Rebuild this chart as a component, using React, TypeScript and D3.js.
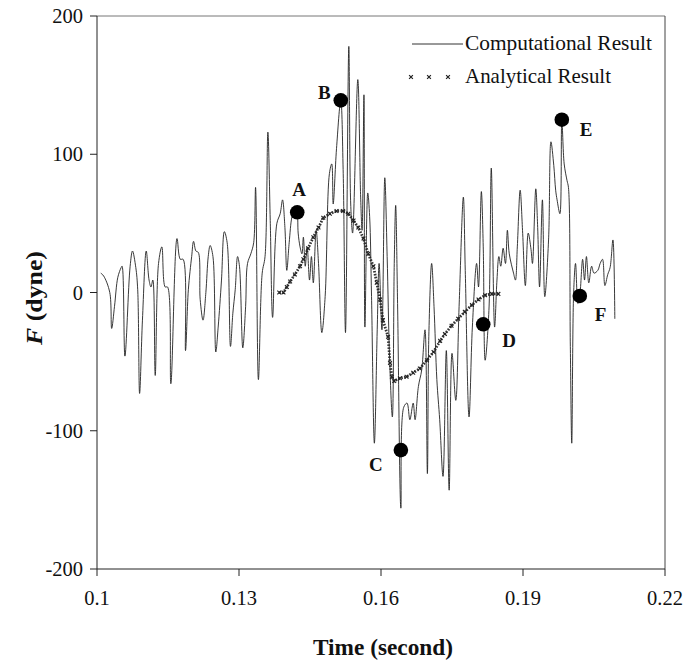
import { scaleLinear, line, symbol, symbolTimes, curveCatmullRom } from 'd3';

const width = 684;
const height = 663;
const margin = { top: 16, right: 19, bottom: 94, left: 97 };

// computational result: time (s), force (dyne)
const compTime = [
  0.1008, 0.1014, 0.1027, 0.1031, 0.1037, 0.1044, 0.1051, 0.1053, 0.1059, 0.107,
  0.1075, 0.1082, 0.1086, 0.109, 0.1096, 0.1104, 0.111, 0.1114, 0.1118, 0.1123,
  0.113, 0.1137, 0.1144, 0.1149, 0.1156, 0.1169, 0.1176, 0.1182, 0.1187, 0.1193,
  0.12, 0.1204, 0.1209, 0.1214, 0.1218, 0.1224, 0.123, 0.1235, 0.1239, 0.1245,
  0.1251, 0.1256, 0.1263, 0.1269, 0.1275, 0.1282, 0.1287, 0.1292, 0.1297, 0.1301,
  0.1308, 0.1314, 0.1318, 0.1325, 0.1331, 0.1335, 0.1341, 0.1349, 0.1355, 0.1361,
  0.1366, 0.1371, 0.138, 0.1387, 0.1392, 0.1397, 0.1401, 0.1406, 0.1412, 0.1419,
  0.1423, 0.1425, 0.1429, 0.1433, 0.1436, 0.144, 0.1444, 0.1449, 0.1453, 0.1457,
  0.1463, 0.1468, 0.1475, 0.1482, 0.1491, 0.1496, 0.1499, 0.1506, 0.1515, 0.152,
  0.1525, 0.1532, 0.1536, 0.154, 0.1551, 0.1557, 0.156, 0.1564, 0.1566, 0.1572,
  0.1576, 0.158, 0.1586, 0.1592, 0.1596, 0.1602, 0.1608, 0.1613, 0.1618, 0.1624,
  0.1628, 0.1631, 0.1635, 0.1642, 0.1648, 0.1655, 0.1661, 0.1668, 0.1672, 0.1679,
  0.1686, 0.1693, 0.1698, 0.1701, 0.1707, 0.1712, 0.1718, 0.1724, 0.1731, 0.1738,
  0.1744, 0.175, 0.1758, 0.1765, 0.1774, 0.1778, 0.1786, 0.1793, 0.1802, 0.1806,
  0.1812, 0.1816, 0.182, 0.1828, 0.1833, 0.184, 0.1845, 0.1849, 0.1853, 0.1858,
  0.1863, 0.1867, 0.1871, 0.188, 0.1884, 0.1888, 0.1894, 0.1899, 0.1905, 0.1911,
  0.1917, 0.192, 0.1927, 0.1931, 0.1935, 0.1941, 0.1946, 0.1954, 0.1959, 0.1965,
  0.1969, 0.1972, 0.1978, 0.1982, 0.1987, 0.1993, 0.1996, 0.2, 0.2003, 0.2007,
  0.2011, 0.2016, 0.202, 0.2026, 0.203, 0.2034, 0.2039, 0.2045, 0.205, 0.2058,
  0.2063, 0.2068, 0.2073, 0.2079, 0.2084, 0.209, 0.2094,
];
const compForce = [
  14, 12, 0, -26, -10, 11, 18, 19, -46, 19,
  30, 18, 2, -73, -20, 30, 9, 4, 9, -60,
  21, 33, 4, 4, -66, 39, 24, 24, -42, 2,
  26, 37, 30, 29, -5, -20, 0, 26, 34, 26,
  -43, -25, 9, 44, 36, -39, -15, 2, 26, 19,
  -40, -10, 21, 28, 36, 76, -63, 14, 26, 116,
  52, -18, 50, 57, 67, 47, 16, 36, 55, 62,
  58, 43, 33, 28, 40, 19, 33, 9, 26, 7,
  45, 21, -29, -3, 86, 93, 64, 104, 139, 89,
  -29, 178, 64, 43, 154, 69, 45, 143, -25, 72,
  55, -3, -109, -27, 21, -27, 83, 26, -46, -90,
  21, 63, -8, -156, -83, -80, -92, -80, -92, -68,
  -56, -27, -131, -32, 21, -10, -63, -92, -133, -42,
  -143, -44, -78, -10, 69, 16, -90, -25, 21, 4,
  73, 33, -49, -13, 90, -25, 9, 26, 19, 32,
  21, 45, 28, 14, 9, 33, 74, 45, 5, 43,
  31, 21, 75, 47, 4, 67, -3, 38, 109, 92,
  74, 67, 57, 125, 93, 81, 76, -39, -109, 0,
  21, -8, -2, 24, 9, 26, 7, 19, 14, 16,
  21, 24, 5, 13, 18, 38, -19,
];

// analytical result
const anaTime = [
  0.1385, 0.1394, 0.1401, 0.1408, 0.1418, 0.1429, 0.1436, 0.1446, 0.1457, 0.1468,
  0.1478, 0.1492, 0.1506, 0.152, 0.1531, 0.1542, 0.1552, 0.1563, 0.1573, 0.1584,
  0.1591, 0.1598, 0.1604, 0.1615, 0.1619, 0.1623, 0.1628, 0.164, 0.1654, 0.1668,
  0.1682, 0.1697, 0.1711, 0.1725, 0.1735, 0.1749, 0.1763, 0.1777, 0.1792, 0.1806,
  0.182, 0.1834, 0.1848,
];
const anaForce = [
  0, 0, 4, 8, 13, 19, 24, 32, 40, 47,
  54, 57, 59, 59, 57, 52, 47, 39, 28, 19,
  7, -5, -20, -32, -51, -61, -64, -62, -61, -58,
  -55, -49, -43, -35, -30, -24, -19, -14, -9, -5,
  -2, -1, -1,
];

// labelled points
const pointNames = ['A', 'B', 'C', 'D', 'E', 'F'];
const pointTime = [0.1423, 0.1515, 0.1642, 0.1816, 0.1982, 0.202];
const pointForce = [58, 139, -114, -23, 125, -2.5];
const labelOffsets = [
  [2, -16, 'middle'],
  [-10, -1, 'end'],
  [-25, 21, 'middle'],
  [19, 23, 'start'],
  [18, 16, 'start'],
  [15, 25, 'start'],
];

const xTicks = [0.1, 0.13, 0.16, 0.19, 0.22];
const yTicks = [-200, -100, 0, 100, 200];

const font = '"Liberation Serif", "DejaVu Serif", serif';

export default function App() {
  const x = scaleLinear().domain([0.1, 0.22]).range([margin.left, width - margin.right]);
  const y = scaleLinear().domain([-200, 200]).range([height - margin.bottom, margin.top]);

  const comp = compTime.map((t, i) => [t, compForce[i]]);
  const ana = anaTime.map((t, i) => [t, anaForce[i]]);

  const lineGen = line()
    .x((d) => x(d[0]))
    .y((d) => y(d[1]));
  const smoothGen = line()
    .x((d) => x(d[0]))
    .y((d) => y(d[1]))
    .curve(curveCatmullRom.alpha(0.5));

  const cross = symbol().type(symbolTimes).size(11)();

  const x0 = x.range()[0];
  const x1 = x.range()[1];
  const yTop = y.range()[1];
  const yBot = y.range()[0];

  return (
    <div style={{ position: 'absolute', left: 0, top: 0 }}>
      <svg width={width} height={height} style={{ display: 'block', background: '#fff' }}>
        {/* frame */}
        <line x1={x0} x2={x1} y1={yTop} y2={yTop} stroke="#777" strokeWidth={1} />
        <line x1={x1} x2={x1} y1={yTop} y2={yBot} stroke="#444" strokeWidth={1} />
        <line x1={x0} x2={x1} y1={yBot} y2={yBot} stroke="#222" strokeWidth={1} />
        <line x1={x0} x2={x0} y1={yTop} y2={yBot} stroke="#222" strokeWidth={1} />

        {/* y axis */}
        {yTicks.map((v) => (
          <g key={'y' + v}>
            <line x1={x0 - 7} x2={x0} y1={y(v)} y2={y(v)} stroke="#222" />
            <text x={x0 - 14} y={y(v)} dy="0.35em" textAnchor="end" fontFamily={font} fontSize={20.5} fill="#111">
              {v}
            </text>
          </g>
        ))}

        {/* x axis */}
        {xTicks.map((v) => (
          <g key={'x' + v}>
            <line x1={x(v)} x2={x(v)} y1={yBot} y2={yBot + 7} stroke="#222" />
            <text x={x(v)} y={yBot + 36} textAnchor="middle" fontFamily={font} fontSize={20.5} fill="#111">
              {v}
            </text>
          </g>
        ))}

        {/* analytical result */}
        <path
          d={lineGen(ana)}
          fill="none"
          stroke="#333"
          strokeWidth={2.8}
          strokeDasharray="1.6 1.4"
        />
        {ana.map((d, i) => (
          <path
            key={'a' + i}
            d={cross}
            transform={`translate(${x(d[0])},${y(d[1])})`}
            stroke="#222"
            strokeWidth={1.1}
            fill="none"
          />
        ))}

        {/* computational result */}
        <path d={smoothGen(comp)} fill="none" stroke="#222" strokeWidth={0.9} />

        {/* labelled points */}
        {pointNames.map((n, i) => {
          const px = x(pointTime[i]);
          const py = y(pointForce[i]);
          const [dx, dy, anchor] = labelOffsets[i];
          return (
            <g key={n}>
              <circle cx={px} cy={py} r={7.3} fill="#000" />
              <text
                x={px + dx}
                y={py + dy}
                textAnchor={anchor}
                fontFamily={font}
                fontWeight="bold"
                fontSize={19}
                fill="#111"
              >
                {n}
              </text>
            </g>
          );
        })}

        {/* legend */}
        <line x1={412} x2={463} y1={44} y2={44} stroke="#333" strokeWidth={1} />
        <text x={465} y={50} fontFamily={font} fontSize={21} fill="#111" textLength={187} lengthAdjust="spacingAndGlyphs">
          Computational Result
        </text>
        {[411, 429, 448].map((lx) => (
          <path
            key={lx}
            d={cross}
            transform={`translate(${lx},77)`}
            stroke="#222"
            strokeWidth={1.2}
            fill="none"
          />
        ))}
        <text x={465} y={83} fontFamily={font} fontSize={21} fill="#111" textLength={146} lengthAdjust="spacingAndGlyphs">
          Analytical Result
        </text>

        {/* axis titles */}
        <text
          x={313}
          y={655}
          fontFamily={font}
          fontWeight="bold"
          fontSize={23}
          fill="#111"
          textLength={140}
          lengthAdjust="spacingAndGlyphs"
        >
          Time (second)
        </text>
        <text
          transform={`translate(42,345) rotate(-90)`}
          fontFamily={font}
          fontWeight="bold"
          fontSize={23}
          fill="#111"
          textLength={94}
          lengthAdjust="spacingAndGlyphs"
        >
          <tspan fontStyle="italic">F</tspan> (dyne)
        </text>
      </svg>
    </div>
  );
}
